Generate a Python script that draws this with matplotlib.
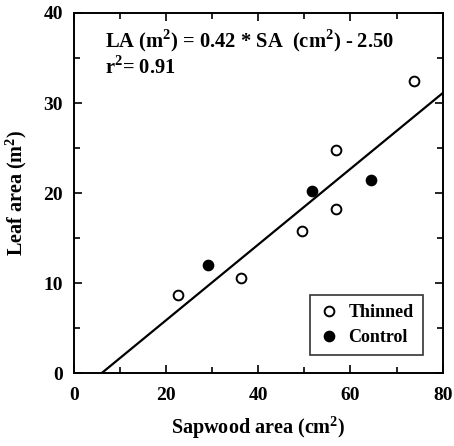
import matplotlib
matplotlib.use("Agg")
import matplotlib.pyplot as plt
import numpy as np
from matplotlib.ticker import MultipleLocator

plt.rcParams['font.family'] = ['Liberation Serif', 'DejaVu Serif']
plt.rcParams['font.weight'] = 'bold'
plt.rcParams['mathtext.fontset'] = 'custom'
plt.rcParams['mathtext.rm'] = 'Liberation Serif:bold'
plt.rcParams['mathtext.bf'] = 'Liberation Serif:bold'

thinned_x = [22.6, 36.2, 49.4, 56.8, 56.8, 73.7]
thinned_y = [8.7, 10.6, 15.85, 18.25, 24.8, 32.4]
control_x = [29.0, 51.7, 64.4]
control_y = [12.0, 20.2, 21.45]
slope = 0.42
intercept = -2.50
fit_x = [2.5 / 0.42, 80]

fig = plt.figure(figsize=(4.54, 4.46), dpi=100)
ax = fig.add_axes([0.163, 0.163, 0.812, 0.808])

fx = np.array(fit_x)
ax.plot(fx, slope * fx + intercept, color='black', lw=1.6, zorder=2)
ax.plot(thinned_x, thinned_y, 'o', mfc='white', mec='black', mew=1.4, ms=7, ls='none', label='Thinned', zorder=3)
ax.plot(control_x, control_y, 'o', mfc='black', mec='black', mew=1.4, ms=7, ls='none', label='Control', zorder=3)

ax.set_xlim(0, 80)
ax.set_ylim(0, 40)
ax.xaxis.set_major_locator(MultipleLocator(20))
ax.xaxis.set_minor_locator(MultipleLocator(10))
ax.yaxis.set_major_locator(MultipleLocator(10))
ax.yaxis.set_minor_locator(MultipleLocator(5))
ax.tick_params(which='both', direction='in', top=True, right=True, labelsize=14, width=1.2)
ax.tick_params(which='major', length=6)
ax.tick_params(axis='x', which='major', pad=10)
ax.tick_params(axis='y', which='major', pad=8)
ax.tick_params(which='minor', length=4)
for s in ax.spines.values():
    s.set_linewidth(1.4)
for lab in ax.get_xticklabels() + ax.get_yticklabels():
    lab.set_fontweight('bold')

ax.set_xlabel('Sapwood area (cm$^2$)', fontsize=14.5, fontweight='bold', labelpad=7)
ax.set_ylabel('Leaf area (m$^2$)', fontsize=14.5, fontweight='bold', labelpad=10)

ax.text(0.085, 0.96, 'LA (m$^2$) = 0.42 * SA  (cm$^2$) - 2.50\nr$^2$= 0.91', transform=ax.transAxes,
        fontsize=14.8, fontweight='bold', va='top', ha='left', linespacing=1.1)

leg = ax.legend(loc='lower right', bbox_to_anchor=(0.97, 0.025), frameon=True, fancybox=False,
                edgecolor='black', handletextpad=0.6, borderpad=0.5, labelspacing=0.45, handlelength=1.0,
                prop={'weight': 'bold', 'size': 13})
leg.get_frame().set_linewidth(1.2)

fig.savefig('out.png', dpi=100)
